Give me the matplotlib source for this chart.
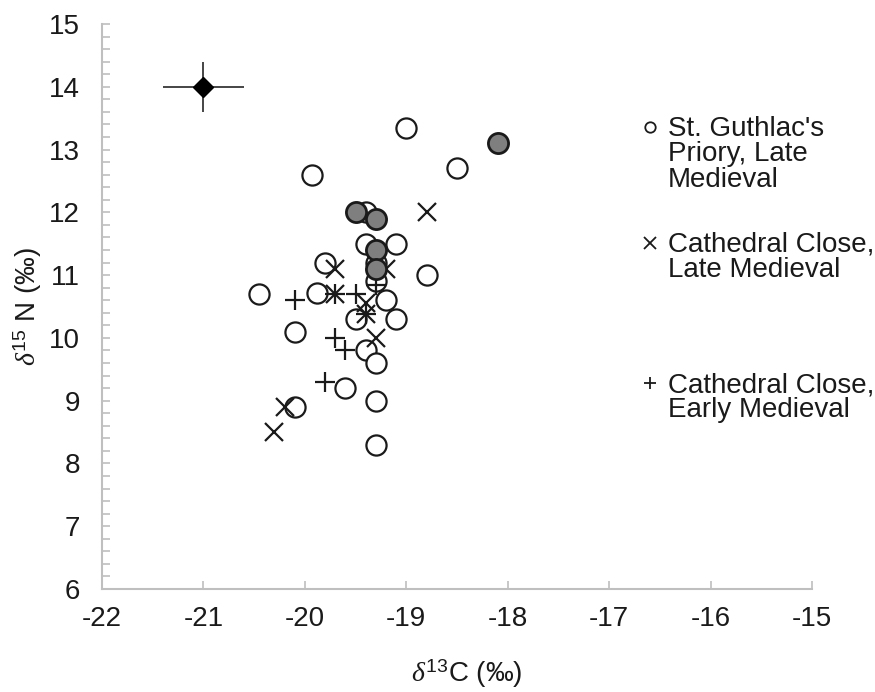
import matplotlib
matplotlib.use('Agg')
import matplotlib.pyplot as plt
from matplotlib.ticker import MultipleLocator
from matplotlib.lines import Line2D

plt.rcParams['font.family'] = ['Liberation Sans', 'DejaVu Sans']
plt.rcParams['axes.unicode_minus'] = False
plt.rcParams['mathtext.fontset'] = 'custom'
plt.rcParams['mathtext.rm'] = 'Liberation Sans'
plt.rcParams['mathtext.it'] = 'Liberation Serif:italic'

# St. Guthlac's Priory, Late Medieval (open circles)
guthlac_c = [-19.0, -19.93, -18.5, -19.4, -19.4, -19.1, -19.3, -18.8, -19.8, -20.45,
             -19.88, -19.3, -19.2, -19.5, -19.1, -20.1, -19.4, -19.3, -19.6, -19.3,
             -20.1, -19.3]
guthlac_n = [13.35, 12.6, 12.7, 12.0, 11.5, 11.5, 11.2, 11.0, 11.2, 10.7,
             10.72, 10.9, 10.6, 10.3, 10.3, 10.1, 9.8, 9.6, 9.2, 9.0,
             8.9, 8.3]
# highlighted (grey filled) individuals
grey_c = [-18.1, -19.5, -19.3, -19.3, -19.3]
grey_n = [13.1, 12.0, 11.9, 11.4, 11.1]
# Cathedral Close, Late Medieval (x)
close_late_c = [-18.8, -19.2, -19.7, -19.7, -19.4, -19.4, -19.3, -20.2, -20.3]
close_late_n = [12.0, 11.1, 11.1, 10.7, 10.55, 10.38, 10.0, 8.9, 8.5]
# Cathedral Close, Early Medieval (+)
close_early_c = [-20.1, -19.7, -19.5, -19.3, -19.4, -19.7, -19.6, -19.8]
close_early_n = [10.6, 10.7, 10.7, 10.85, 10.38, 10.0, 9.8, 9.3]
# faunal / reference point with error bars
ref_c = [-21.0]
ref_n = [14.0]
ref_c_err = [0.4]
ref_n_err = [0.4]

legend_labels = ["St. Guthlac's\nPriory, Late\nMedieval",
                 "Cathedral Close,\nLate Medieval",
                 "Cathedral Close,\nEarly Medieval"]

fig = plt.figure(figsize=(8.75, 6.92), dpi=100)
ax = fig.add_axes([0.1166, 0.1488, 0.8114, 0.8165])

ink = '#1a1a1a'
ax.plot(guthlac_c, guthlac_n, linestyle='none', marker='o', ms=14.5,
        mfc='white', mec=ink, mew=1.6, zorder=3)
ax.plot(close_late_c, close_late_n, linestyle='none', marker='x', ms=12.5,
        mec=ink, mew=1.6, zorder=4)
ax.plot(close_early_c, close_early_n, linestyle='none', marker='+', ms=14.5,
        mec=ink, mew=1.6, zorder=4)
ax.plot(grey_c, grey_n, linestyle='none', marker='o', ms=14.5,
        mfc='#7f7f7f', mec=ink, mew=2.0, zorder=5)
ax.errorbar(ref_c, ref_n, xerr=ref_c_err, yerr=ref_n_err, fmt='D', ms=10,
            mfc='black', mec='black', ecolor='#262626', elinewidth=1.2,
            capsize=0, zorder=6)

ax.set_xlim(-22, -15)
ax.set_ylim(6, 15)
ax.xaxis.set_major_locator(MultipleLocator(1))
ax.yaxis.set_major_locator(MultipleLocator(1))
ax.yaxis.set_minor_locator(MultipleLocator(0.2))

for s in ['top', 'right']:
    ax.spines[s].set_visible(False)
for s in ['left', 'bottom']:
    ax.spines[s].set_color('#bfbfbf')
    ax.spines[s].set_linewidth(1.5)

ax.tick_params(axis='both', which='both', direction='in', color='#bfbfbf',
               width=1.2, labelsize=20, labelcolor='#1a1a1a')
ax.tick_params(axis='x', which='major', length=6, pad=12)
ax.tick_params(axis='y', which='major', length=6, pad=16)
ax.tick_params(axis='y', which='minor', length=6)

ax.set_xlabel(r'$\delta^{\mathrm{13}}$C (‰)', fontsize=20, color='#1a1a1a')
ax.set_ylabel(r'$\delta^{\mathrm{15}}$ N (‰)', fontsize=20, color='#1a1a1a')
ax.xaxis.set_label_coords(0.513, -0.150)
ax.xaxis.label.set_va('center')
ax.yaxis.set_label_coords(-0.104, 0.5)
ax.yaxis.label.set_va('center')

# manual legend (Excel style: marker aligned with first text line)
W, H = 875.0, 692.0
leg_markers = [('o', 7.5), ('x', 8), ('+', 9)]
leg_y = [127, 243, 383]
for (m, sz), lab, yy in zip(leg_markers, legend_labels, leg_y):
    fig.add_artist(Line2D([650 / W], [1 - yy / H], marker=m, ms=sz,
                          mfc='white', mec=ink, mew=1.3, linestyle='none',
                          transform=fig.transFigure))
    fig.text(668 / W, 1 - (yy - 11) / H, lab, fontsize=20, color='#1a1a1a',
             ha='left', va='top', linespacing=0.97)

fig.savefig('out.png', dpi=100)
